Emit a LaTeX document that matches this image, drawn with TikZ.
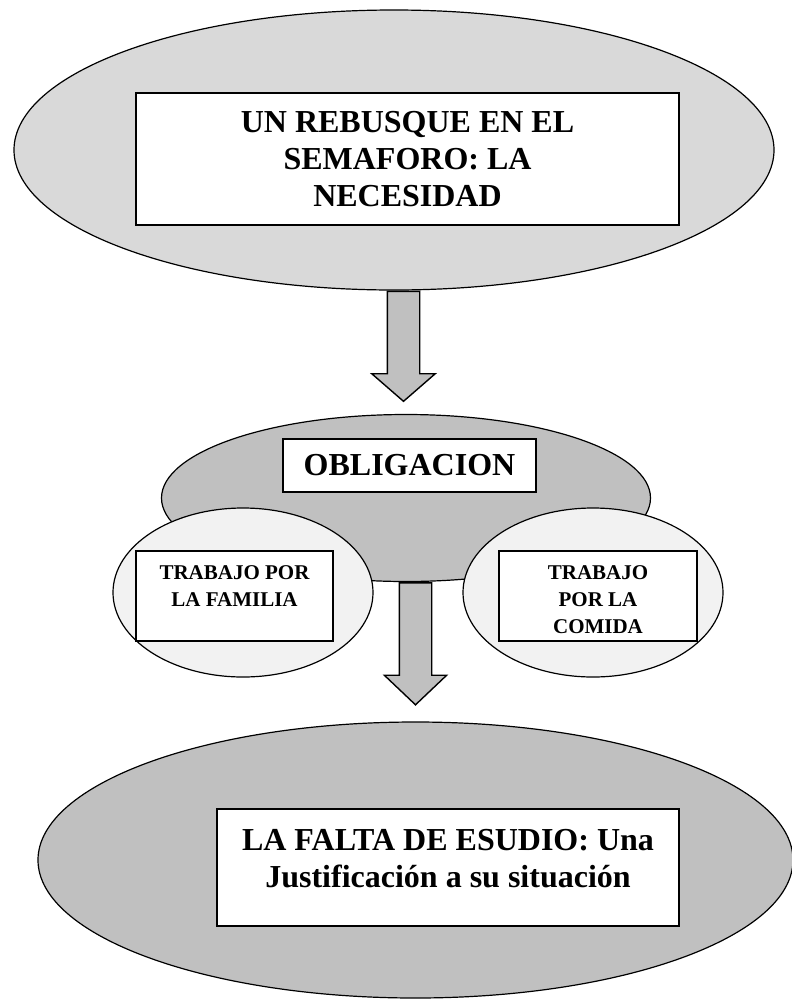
\documentclass[tikz,border=0pt]{standalone}
\usepackage{fontspec}
\setmainfont{Liberation Serif}
\usetikzlibrary{shapes.geometric,shapes.arrows,positioning}
\definecolor{ovaldark}{HTML}{C0C0C0}
\definecolor{ovallight}{HTML}{D9D9D9}
\definecolor{ovalpale}{HTML}{F2F2F2}

\begin{document}
\begin{tikzpicture}[
    x=.5pt, y=-.5pt,
    oval/.style={ellipse, draw=black, line width=.6pt, inner sep=0pt},
    textbox/.style={draw=black, line width=.8pt, fill=white, inner sep=0pt},
    bigtext/.style={font=\fontsize{16}{18.4}\selectfont\bfseries,
      align=center, inner sep=0pt},
    smalltext/.style={font=\fontsize{10.5}{13.5}\selectfont\bfseries,
      align=center, inner sep=0pt},
    blockarrow/.style={single arrow, draw=black, line width=.7pt,
      fill=ovaldark, shape border rotate=270,
      single arrow head extend=7.75pt, anchor=tail}
  ]
    \useasboundingbox (0,0) rectangle (792,1002);

    % top: la necesidad
    \node[oval, fill=ovallight, minimum width=380pt, minimum height=140pt]
      (necOval) at (394,150) {};
    \node[textbox, bigtext, minimum width=271.5pt, minimum height=66pt]
      (necBox) at (407.5,159) {UN REBUSQUE EN EL\\SEMAFORO: LA\\NECESIDAD};
    \node[blockarrow, inner sep=7.75pt, single arrow tip angle=98,
      minimum height=55pt] (arrA) at (necOval.south -| 403.5,0) {};

    % middle: obligacion
    \node[oval, fill=ovaldark, minimum width=244.5pt, minimum height=83.5pt]
      (oblOval) at (406,498) {};
    \node[textbox, bigtext, minimum width=126.5pt, minimum height=26.5pt]
      (oblBox) at (409.5,465.5) {OBLIGACION};

    \node[oval, fill=ovalpale, minimum width=130pt, minimum height=84.5pt]
      (famOval) at (243,592.5) {};
    \node[textbox, minimum width=98.5pt, minimum height=45pt]
      (famBox) at (234.5,596) {};
    \node[smalltext, below=7.5pt of famBox.north] (famText)
      {TRABAJO POR\\LA FAMILIA};

    \node[oval, fill=ovalpale, minimum width=130pt, minimum height=84.5pt]
      (comOval) at (593,592.5) {};
    \node[textbox, minimum width=99pt, minimum height=45pt]
      (comBox) at (598,596) {};
    \node[smalltext, below=7.5pt of comBox.north] (comText)
      {TRABAJO\\POR LA\\COMIDA};

    \node[blockarrow, inner sep=7.75pt, single arrow head extend=7.5pt,
      single arrow tip angle=93, minimum height=61pt]
      (arrB) at (oblOval.south -| 415.5,0) {};

    % bottom: falta de estudio
    \node[oval, fill=ovaldark, minimum width=377.5pt, minimum height=138pt]
      (estOval) at (415.5,860) {};
    \node[textbox, minimum width=231pt, minimum height=58.5pt]
      (estBox) at (448,867.5) {};
    \node[bigtext, below=10.5pt of estBox.north] (estText)
      {LA FALTA DE ESUDIO: Una\\Justificación a su situación};
  \end{tikzpicture}
\end{document}
